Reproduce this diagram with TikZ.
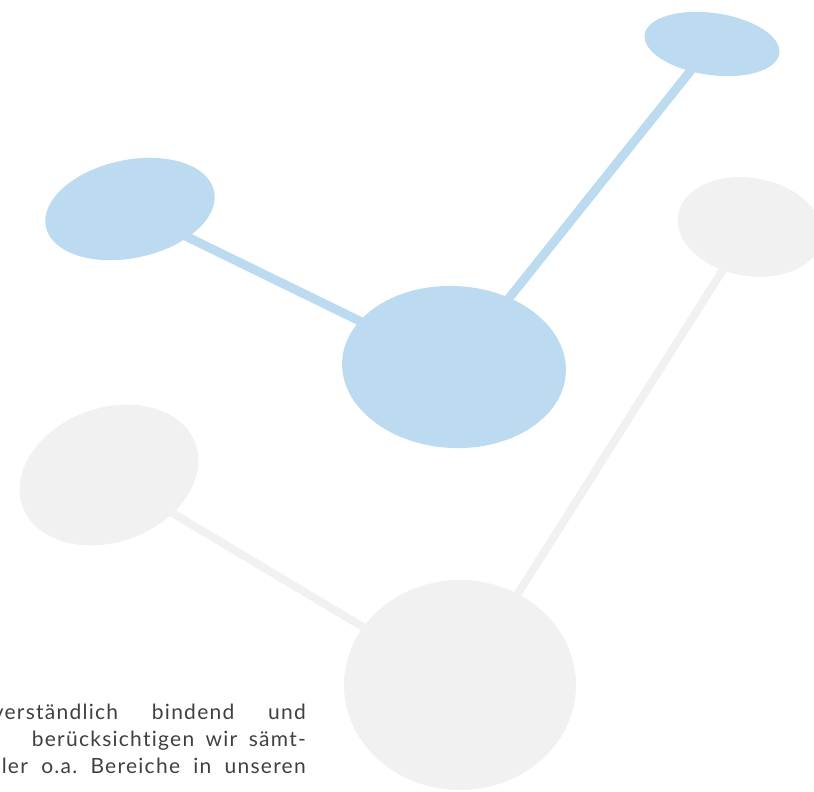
\documentclass[tikz,border=0pt]{standalone}
\usepackage{fontspec}
\setmainfont[LetterSpace=6,Ligatures={NoCommon}]{Lato}
\usetikzlibrary{shapes.geometric,backgrounds}
\definecolor{nodeblue}{HTML}{BDDBF0}
\definecolor{nodegray}{HTML}{F1F1F1}
\definecolor{txt}{HTML}{404040}
\tikzset{
  blob/.style={ellipse, inner sep=0pt, draw=none},
  bluenode/.style={blob, fill=nodeblue},
  graynode/.style={blob, fill=nodegray},
  blueline/.style={draw=nodeblue, line width=9pt},
  grayline/.style={draw=nodegray, line width=8pt},
  textline/.style={anchor=base east, inner sep=0pt, text=txt, font=\fontsize{21}{25}\selectfont}
}
\begin{document}
\begin{tikzpicture}[x=1pt,y=-1pt]
\useasboundingbox (0,0) rectangle (814,792);
\clip (0,0) rectangle (814,792);
% gray nodes
\node[graynode, minimum width=146pt, minimum height=98pt, rotate=-10] (g1) at (750,227) {};
\node[graynode, minimum width=184pt, minimum height=134pt, rotate=20] (g2) at (109,475) {};
\node[graynode, minimum width=232pt, minimum height=210pt] (g3) at (460,685) {};
% blue nodes
\node[bluenode, minimum width=136pt, minimum height=62pt, rotate=-8] (b1) at (712,44) {};
\node[bluenode, minimum width=172pt, minimum height=98pt, rotate=12] (b2) at (130,209) {};
\node[bluenode, minimum width=224pt, minimum height=162pt, rotate=-3] (b3) at (454,367) {};
\begin{pgfonlayer}{background}
\draw[grayline] (g3.center) -- (g1.center);
\draw[grayline] (g3.center) -- (g2.center);
\draw[blueline] (b3.center) -- (b1.center);
\draw[blueline] (b3.center) -- (b2.center);
\end{pgfonlayer}
% text
\node[textline] (t1) at (306,719) {\hbox to 313pt{verständlich\hfill bindend\hfill und}};
\node[textline] (t2) at (306,746) {\hbox to 274pt{berücksichtigen\hfill wir\hfill sämt-}};
\node[textline] (t3) at (306,773) {\hbox to 304pt{ler\hfill o.a.\hfill Bereiche\hfill in\hfill unseren}};
\end{tikzpicture}
\end{document}
